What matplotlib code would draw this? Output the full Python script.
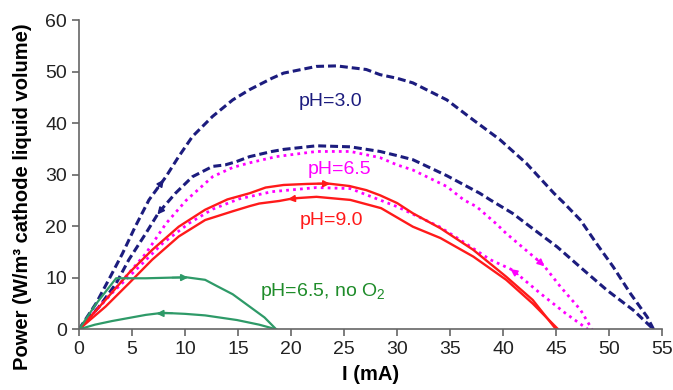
import matplotlib
matplotlib.use('Agg')
import matplotlib.pyplot as plt
import numpy as np

plt.rcParams['font.family'] = ['Liberation Sans', 'DejaVu Sans']
plt.rcParams['mathtext.fontset'] = 'custom'
plt.rcParams['mathtext.rm'] = 'Liberation Sans'
plt.rcParams['mathtext.it'] = 'Liberation Sans:italic'
plt.rcParams['mathtext.bf'] = 'Liberation Sans:bold'

# pH 3.0 (forward / reverse sweep)
ph3_fwd_x = [0, 1.6, 2.8, 4.1, 5.3, 6.6, 8.2, 9.4, 10.7, 12.6, 14.5, 16.1, 18.2, 19.3, 22.4, 24.3, 27.1, 28.4, 30, 31.5,
             34.7, 37.2, 39.7, 42.2, 44.8, 45.7, 47.3, 48.8, 50.4, 52.0, 53.6, 54.2]
ph3_fwd_y = [0, 5.0, 9.6, 14.7, 19.9, 25.1, 29.6, 33.5, 37.4, 41.3, 44.5, 46.5, 48.7, 49.7, 51.0, 51.1, 50.4, 49.4, 48.7, 47.8,
             44.5, 40.6, 36.8, 32.2, 26.4, 24.6, 21.2, 16.7, 12.1, 7.0, 2.4, 0]
ph3_rev_x = [0, 1.9, 3.5, 4.7, 6.3, 7.5, 9.1, 10.7, 12.6, 13.8, 14.8, 16.1, 18.2, 19.3, 22.4, 25.6, 28.4, 30.0, 31.5, 34.7,
             37.8, 38.8, 40.9, 42.5, 45.1, 47.6, 49.8, 52.3, 54.2]
ph3_rev_y = [0, 4.4, 8.9, 13.5, 18.6, 22.6, 26.4, 29.6, 31.6, 31.9, 32.5, 33.5, 34.5, 34.9, 35.6, 35.4, 34.5, 33.7, 32.9, 29.8,
             26.4, 25.1, 22.5, 20.0, 16.0, 11.5, 7.6, 3.7, 0]

# pH 6.5
ph65_fwd_x = [0, 2.5, 4.4, 6.3, 8.2, 10.1, 12.6, 14.5, 16.1, 18.6, 22.4, 25.6, 28.4, 30, 31.5, 34.7, 36.3, 37.5, 39.4,
              40.3, 43.8, 45.4, 47.3, 48.4]
ph65_fwd_y = [0, 5.7, 10.2, 14.7, 20.5, 25.0, 29.6, 31.4, 32.3, 33.5, 34.5, 34.5, 33.3, 31.9, 30.9, 27.7, 25.1, 23.8, 20.4,
              18.6, 12.5, 8.3, 3.8, 0]
ph65_rev_x = [0, 3.1, 5.7, 7.9, 10.4, 12.6, 15.1, 18.2, 22.4, 25.6, 30, 34, 36.0, 38.8, 40.9, 43.5, 45.9, 48.0]
ph65_rev_y = [0, 7.0, 12.2, 16.7, 20.6, 23.3, 25.3, 26.7, 27.5, 27.3, 23.8, 19.9, 17.3, 13.5, 11.5, 7.0, 3.1, 0]

# pH 9.0
ph9_fwd_x = [0, 2.5, 4.7, 6.9, 9.4, 11.9, 14.0, 16.1, 17.6, 19.3, 21.5, 23.4, 25.5, 27.1, 28.4, 30.0, 31.5, 34.1, 37.2,
             40.3, 42.8, 45.0]
ph9_fwd_y = [0, 5.7, 10.9, 15.4, 19.9, 23.2, 25.2, 26.4, 27.5, 28.0, 28.2, 28.3, 27.8, 27.0, 26.0, 24.5, 22.5, 19.6, 15.4,
             10.2, 5.7, 0]
ph9_rev_x = [0, 2.5, 4.7, 6.9, 9.4, 11.9, 14.5, 16.1, 17.0, 18.9, 20.2, 22.4, 25.6, 28.5, 31.5, 34.1, 37.2, 40.3, 42.8, 45.2]
ph9_rev_y = [0, 4.4, 8.9, 13.5, 18.0, 21.2, 22.9, 23.9, 24.4, 24.9, 25.4, 25.7, 25.1, 23.5, 19.9, 17.7, 14.1, 9.6, 5.0, 0]

# pH 6.5, no O2
noo2_fwd_x = [0, 1.6, 3.5, 6.3, 10.1, 11.9, 13.0, 14.5, 16.1, 17.5, 18.6]
noo2_fwd_y = [0, 4.9, 9.9, 9.9, 10.1, 9.6, 8.4, 6.8, 4.4, 2.3, 0]
noo2_rev_x = [0, 1.5, 3.1, 6.3, 7.9, 10.0, 11.9, 14.9, 17.0, 18.6]
noo2_rev_y = [0, 0.9, 1.6, 2.8, 3.2, 3.0, 2.7, 1.8, 0.9, 0]

navy = '#1c1c7e'
magenta = '#ff00ff'
red = '#ff1a1a'
green = '#2e9a68'

fig = plt.figure(figsize=(6.73, 3.9), dpi=100)
ax = fig.add_axes([0.1174, 0.1556, 0.8663, 0.7931])


def arrow(ax, xs, ys, x0, dx, color, ms=10):
    # arrowhead sitting on the curve, pointing in the sweep direction
    x1 = x0 + dx
    ax.annotate('', xy=(x1, np.interp(x1, xs, ys)), xytext=(x0, np.interp(x0, xs, ys)),
                arrowprops=dict(arrowstyle='-|>', color=color, lw=1.2, mutation_scale=ms,
                                shrinkA=0, shrinkB=0))


ax.plot(ph3_fwd_x, ph3_fwd_y, color=navy, lw=2.2, dashes=(2.6, 1.3))
ax.plot(ph3_rev_x, ph3_rev_y, color=navy, lw=2.2, dashes=(2.6, 1.3))
ax.plot(ph65_fwd_x, ph65_fwd_y, color=magenta, lw=2, dashes=(1, 1.5))
ax.plot(ph65_rev_x, ph65_rev_y, color=magenta, lw=2, dashes=(1, 1.5))
ax.plot(ph9_fwd_x, ph9_fwd_y, color=red, lw=1.7)
ax.plot(ph9_rev_x, ph9_rev_y, color=red, lw=1.7)
ax.plot(noo2_fwd_x, noo2_fwd_y, color=green, lw=1.6)
ax.plot(noo2_rev_x, noo2_rev_y, color=green, lw=1.6)

arrow(ax, ph3_fwd_x, ph3_fwd_y, 7.4, 0.6, navy)
arrow(ax, ph3_rev_x, ph3_rev_y, 8.0, -0.6, navy)
arrow(ax, ph9_fwd_x, ph9_fwd_y, 22.5, 1.2, red)
arrow(ax, ph9_rev_x, ph9_rev_y, 20.9, -1.2, red)
arrow(ax, ph65_fwd_x, ph65_fwd_y, 43.2, 0.7, magenta)
arrow(ax, ph65_rev_x, ph65_rev_y, 41.4, -0.7, magenta)
arrow(ax, noo2_fwd_x, noo2_fwd_y, 8.8, 1.5, green)
arrow(ax, noo2_rev_x, noo2_rev_y, 8.8, -1.5, green)

ax.text(20.7, 44.2, 'pH=3.0', color=navy, fontsize=14, va='center', ha='left')
ax.text(21.6, 31.0, 'pH=6.5', color=magenta, fontsize=14, va='center', ha='left')
ax.text(20.8, 21.2, 'pH=9.0', color=red, fontsize=14, va='center', ha='left')
ax.text(17.1, 7.4, 'pH=6.5, no O$_2$', color='#1f8c2a', fontsize=14, va='center', ha='left')

ax.set_xlim(0, 55)
ax.set_ylim(0, 60)
ax.set_xticks(np.arange(0, 56, 5))
ax.set_yticks(np.arange(0, 61, 10))
ax.spines['top'].set_visible(False)
ax.spines['right'].set_visible(False)
for s in ['left', 'bottom']:
    ax.spines[s].set_color('#666666')
    ax.spines[s].set_linewidth(1.2)
ax.tick_params(direction='out', length=5, width=1.2, color='#666666', labelsize=14,
               labelcolor='#222222')
ax.set_xlabel('I (mA)', fontsize=14.5, fontweight='bold', labelpad=5)
fig.text(0.034, 0.495, 'Power (W/m³ cathode liquid volume)', fontsize=14.5, fontweight='bold',
         rotation=90, ha='center', va='center')

fig.savefig('out.png', dpi=100)
